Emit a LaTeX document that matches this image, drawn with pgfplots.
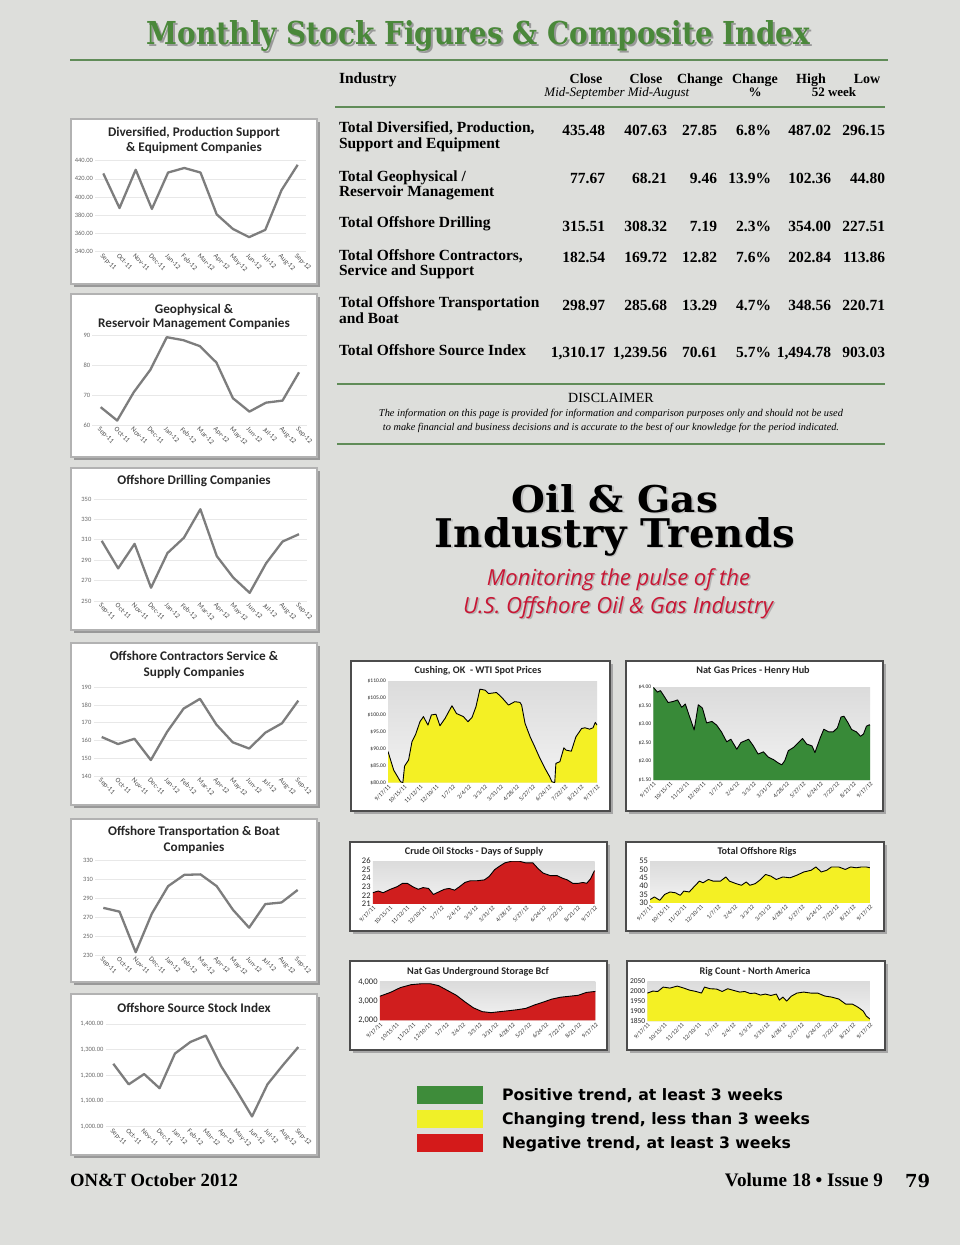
\documentclass[border=0pt]{standalone}
\usepackage{pgfplots}
\pgfplotsset{compat=1.18}
\usepackage{pgfplotstable}
\usepackage{graphicx}
\usepackage{fontspec}
\setmainfont{Liberation Serif}
\newfontfamily\carlito{Carlito}
\newfontfamily\slab{DejaVu Serif}
\newfontfamily\osans{Open Sans}
\newfontfamily\dsans{DejaVu Sans}

\definecolor{pagebg}{RGB}{221,222,219}
\definecolor{titlegreen}{RGB}{74,136,58}
\definecolor{rulegreen}{RGB}{96,140,88}
\definecolor{crimson}{RGB}{200,22,52}
\definecolor{linegray}{RGB}{125,125,125}
\definecolor{posgreen}{RGB}{62,140,58}
\definecolor{chgyellow}{RGB}{240,240,40}
\definecolor{negred}{RGB}{212,26,26}
\definecolor{areagreen}{RGB}{56,138,56}
\definecolor{areayellow}{RGB}{244,240,36}
\definecolor{areared}{RGB}{208,30,30}

% ---------- weekly series (x = days since 9/17/11) ----------
\pgfplotstableread{
x y
0 89.2
10 83.7
22 80.3
26 80
29 84.9
36 86.7
42 92.1
48 94.1
56 98
62 99.5
70 97
76 100
84 100.2
91 96.8
100 99
112 102.7
120 100.4
132 99.5
140 98
147 99.2
154 102.4
161 107.6
170 107.3
176 106.3
190 106.6
199 105.2
211 102.9
222 103.9
231 103.7
234 102.9
240 97.5
249 93.5
257 90.6
266 87.2
275 84.2
283 81.8
287 80.3
292 80
294 85.7
301 86.2
308 90.3
312 89.6
321 89.3
329 93.5
339 96
345 96.2
353 95.8
359 96.2
363 97.8
366 97
}\wti

\pgfplotstableread{
x y
0 4.00
7 3.87
12 3.91
17 3.79
25 3.59
34 3.62
41 3.66
48 3.46
54 3.55
61 3.22
69 2.85
76 3.53
83 3.44
90 3.04
99 3.08
107 2.98
115 2.80
124 2.53
131 2.60
141 2.33
148 2.51
161 2.60
169 2.42
177 2.20
186 2.26
194 2.12
203 2.05
211 1.96
217 1.91
222 2.02
228 2.29
237 2.38
245 2.51
252 2.62
259 2.47
268 2.42
273 2.24
282 2.64
288 2.87
296 2.80
304 2.80
311 2.91
317 3.20
322 3.22
329 3.04
335 2.86
343 2.80
350 2.68
355 2.74
360 2.95
365 2.99
366 2.97
}\natgas

\pgfplotstableread{
x y
0 22.3
9 22.5
17 22.3
29 22.7
40 23.0
49 23.4
57 23.4
66 23.0
75 22.7
83 22.9
92 22.8
100 22.1
109 22.4
118 22.7
126 22.8
135 22.6
143 23.0
152 23.5
161 23.7
172 23.7
184 23.8
192 24.2
201 25.0
209 25.4
218 25.8
230 26.0
241 26.0
252 25.8
264 25.8
273 25.1
281 24.6
293 24.3
304 24.3
313 24.0
321 23.8
330 23.4
339 23.4
347 23.5
353 23.4
359 23.9
366 24.9
}\crude

\pgfplotstableread{
x y
0 32
7 33.5
16 31.5
24 35
33 36.5
42 36
50 34.5
56 37
65 36.5
74 40
82 43
88 42
97 44
105 43
117 43
126 45.5
132 43
143 41.5
152 40.5
160 42.5
166 40.5
175 41.5
184 44
192 47
201 46
210 44
221 45.5
233 45
244 46.5
256 48.5
268 49.5
276 51.5
285 48.5
294 49.5
302 51.5
314 51.5
325 50
334 51.5
343 51
352 51.5
360 51.5
366 51
}\rigs

\pgfplotstableread{
x y
0 3250
18 3450
35 3700
53 3850
71 3900
86 3900
100 3800
115 3550
130 3300
145 2950
159 2650
174 2450
189 2400
204 2450
219 2500
233 2550
248 2620
263 2800
278 2950
292 3100
307 3200
322 3250
337 3300
351 3450
366 3500
}\storage

\pgfplotstableread{
x y
0 1990
9 2000
17 1998
26 2020
37 2015
49 2025
60 2015
69 2005
80 1998
89 1990
94 2020
103 2012
114 2010
123 1998
132 2012
140 2005
152 1995
160 1998
169 1988
177 1990
186 1980
194 1985
203 1978
212 1985
217 1955
223 1970
229 1950
237 1975
246 1990
257 1995
269 1990
280 1990
292 1975
303 1970
315 1960
326 1935
337 1935
346 1920
355 1900
360 1875
366 1860
}\rigna

\pgfplotsset{
  every axis/.append style={/pgf/number format/assume math mode=true},
  mini/.style={
    scale only axis, anchor=south west, clip=false,
    xmin=-0.5, xmax=12.5,
    xtick={0,...,12},
    xticklabels={Sep-11,Oct-11,Nov-11,Dec-11,Jan-12,Feb-12,Mar-12,Apr-12,May-12,Jun-12,Jul-12,Aug-12,Sep-12},
    x tick label style={rotate=-45, anchor=north west, font=\carlito\fontsize{7}{8}\selectfont, text=black!70, inner sep=1pt},
    y tick label style={font=\carlito\fontsize{6.5}{7}\selectfont, text=black!60, inner sep=2pt},
    scaled y ticks=false,
    axis line style={draw=none}, major tick length=0pt,
    ymajorgrids, grid style={black!9, line width=0.7pt},
  },
  minil/.style={line width=2.3pt, color=linegray, line join=round, mark=none},
  area/.style={
    scale only axis, anchor=south west,
    xmin=0, xmax=366,
    xtick={0,28,56,84,113,141,169,197,225,253,282,310,338,366},
    xticklabels={9/17/11,10/15/11,11/12/11,12/10/11,1/7/12,2/4/12,3/3/12,3/31/12,4/28/12,5/27/12,6/24/12,7/22/12,8/21/12,9/17/12},
    x tick label style={rotate=45, anchor=north east, font=\carlito\fontsize{6}{6.5}\selectfont, text=black!80, inner sep=1pt},
    y tick label style={font=\carlito\fontsize{8.5}{9}\selectfont, text=black!85, inner sep=2pt},
    scaled y ticks=false,
    axis line style={draw=none}, major tick length=0pt,
    axis background/.style={top color=black!14, bottom color=black!5},
  },
  areal/.style={black, line width=0.9pt, mark=none, line join=round},
}

\begin{document}
\begin{tikzpicture}
\useasboundingbox (0pt,0pt) rectangle (960pt,-1245pt);
\begin{scope}[x=1pt,y=-1pt, every node/.style={inner sep=0pt, outer sep=0pt}]
\fill[pagebg] (0,0) rectangle (960,1245);

% ---- main title
\node[anchor=base, text=black!40] at (480.5,46) {\resizebox{663pt}{24pt}{\slab\bfseries Monthly Stock Figures \& Composite Index}};
\node[anchor=base, text=titlegreen] at (478.5,44) {\resizebox{663pt}{24pt}{\slab\bfseries Monthly Stock Figures \& Composite Index}};
\draw[rulegreen, line width=2.5] (70,60) -- (888,60);

% ---- table header
\begin{scope}[font=\fontsize{15.5}{17}\selectfont\bfseries]
\node[anchor=base west] at (339,83) {Industry};
\end{scope}
\begin{scope}[font=\fontsize{14}{16}\selectfont\bfseries]
\node[anchor=base] at (586,83) {Close};
\node[anchor=base] at (646,83) {Close};
\node[anchor=base] at (700,83) {Change};
\node[anchor=base] at (755,83) {Change};
\node[anchor=base] at (811,83) {High};
\node[anchor=base] at (867,83) {Low};
\end{scope}
\node[anchor=base, font=\fontsize{13}{15}\selectfont\itshape] at (584.5,96) {Mid-September};
\node[anchor=base, font=\fontsize{13}{15}\selectfont\itshape] at (658.5,96) {Mid-August};
\node[anchor=base, font=\fontsize{13}{15}\selectfont\bfseries] at (755,96) {\%};
\node[anchor=base, font=\fontsize{13}{15}\selectfont\bfseries] at (834,96) {52 week};
\draw[rulegreen, line width=2.5] (335,107) -- (885,107);

% ---- table rows
\begin{scope}[font=\fontsize{15.5}{17}\selectfont\bfseries]
\node[anchor=base west] at (339,132) {Total Diversified, Production,};
\node[anchor=base west] at (339,148) {Support and Equipment};
\node[anchor=base west] at (339,181) {Total Geophysical /};
\node[anchor=base west] at (339,196) {Reservoir Management};
\node[anchor=base west] at (339,227) {Total Offshore Drilling};
\node[anchor=base west] at (339,260) {Total Offshore Contractors,};
\node[anchor=base west] at (339,275) {Service and Support};
\node[anchor=base west] at (339,307) {Total Offshore Transportation};
\node[anchor=base west] at (339,323) {and Boat};
\node[anchor=base west] at (339,355) {Total Offshore Source Index};
\foreach \yy/\a/\b/\c/\d/\e/\f in {
  135/435.48/407.63/27.85/6.8\%/487.02/296.15,
  183/77.67/68.21/9.46/13.9\%/102.36/44.80,
  231/315.51/308.32/7.19/2.3\%/354.00/227.51,
  262/182.54/169.72/12.82/7.6\%/202.84/113.86,
  310/298.97/285.68/13.29/4.7\%/348.56/220.71,
  357/{1,310.17}/{1,239.56}/70.61/5.7\%/{1,494.78}/903.03}{
  \node[anchor=base east] at (605,\yy) {\a};
  \node[anchor=base east] at (667,\yy) {\b};
  \node[anchor=base east] at (717,\yy) {\c};
  \node[anchor=base east] at (771,\yy) {\d};
  \node[anchor=base east] at (831,\yy) {\e};
  \node[anchor=base east] at (885,\yy) {\f};
}
\end{scope}
\draw[rulegreen, line width=2] (337,384) -- (885,384);
\node[anchor=base, font=\fontsize{14}{16}\selectfont] at (611,402) {DISCLAIMER};
\node[anchor=base] at (611,416) {\resizebox{464pt}{!}{\itshape The information on this page is provided for information and comparison purposes only and should not be used}};
\node[anchor=base] at (611,430) {\resizebox{456pt}{!}{\itshape to make financial and business decisions and is accurate to the best of our knowledge for the period indicated.}};
\draw[rulegreen, line width=2] (337,444) -- (885,444);

% ---- Oil & Gas Industry Trends
\node[anchor=base, text=black!25] at (616.5,513.5) {\resizebox{206pt}{28pt}{\slab\bfseries Oil \& Gas}};
\node[anchor=base] at (615,512) {\resizebox{206pt}{28pt}{\slab\bfseries Oil \& Gas}};
\node[anchor=base, text=black!25] at (616.5,548.5) {\resizebox{360pt}{30pt}{\slab\bfseries Industry Trends}};
\node[anchor=base] at (615,547) {\resizebox{360pt}{30pt}{\slab\bfseries Industry Trends}};
\node[anchor=base, text=black!30] at (620,586.5) {\resizebox{263pt}{!}{\osans\itshape Monitoring the pulse of the}};
\node[anchor=base, text=crimson] at (618.5,585) {\resizebox{263pt}{!}{\osans\itshape Monitoring the pulse of the}};
\node[anchor=base, text=black!30] at (619.5,614.5) {\resizebox{310pt}{!}{\osans\itshape U.S. Offshore Oil \& Gas Industry}};
\node[anchor=base, text=crimson] at (618,613) {\resizebox{310pt}{!}{\osans\itshape U.S. Offshore Oil \& Gas Industry}};

% ---- left chart boxes
\foreach \t/\b in {119/284, 294/457, 468/630, 643/805, 819/982, 994/1155}{
  \fill[black!40] (73.5,\t+2.5) rectangle (319.5,\b+2.5);
  \draw[fill=white, draw=black!30, line width=2] (71,\t) rectangle (317,\b);
}
% ---- right chart boxes
\foreach \l/\t/\r/\b in {351/661/610/811, 626/661/883/811, 350/842/607/931, 626/842/884/931, 350/961/607/1050, 627/961/885/1050}{
  \fill[black!35] (\l+2.5,\t+2.5) rectangle (\r+2.5,\b+2.5);
  \draw[fill=white, draw=black!70, line width=1.3] (\l,\t) rectangle (\r,\b);
}

% ---- legend
\fill[posgreen] (417,1086) rectangle (483,1104);
\fill[chgyellow] (417,1110) rectangle (483,1128);
\fill[negred] (417,1134) rectangle (483,1152);
\node[anchor=base west] at (502,1100.5) {\resizebox{281pt}{!}{\dsans\bfseries Positive trend, at least 3 weeks}};
\node[anchor=base west] at (502,1124.5) {\resizebox{308pt}{!}{\dsans\bfseries Changing trend, less than 3 weeks}};
\node[anchor=base west] at (502,1148.5) {\resizebox{289pt}{!}{\dsans\bfseries Negative trend, at least 3 weeks}};

% ---- footer
\node[anchor=base west] at (70,1186) {\resizebox{168pt}{!}{\bfseries ON\&T October 2012}};
\node[anchor=base east] at (883,1186) {\resizebox{158pt}{!}{\bfseries Volume 18 \textbullet{} Issue 9}};
\node[anchor=base west] at (905,1187) {\resizebox{25pt}{!}{\slab\bfseries 79}};
\end{scope}

% =============== left mini charts ===============
\begin{axis}[mini, at={(95.2pt,-251.7pt)}, width=210.6pt, height=91pt,
  ymin=340, ymax=440, ytick={340,360,...,440},
  y tick label style={/pgf/number format/fixed, /pgf/number format/fixed zerofill, /pgf/number format/precision=2}]
\addplot[minil] coordinates {(0,426)(1,388)(2,430)(3,387)(4,427)(5,432)(6,427)(7,381)(8,365)(9,356)(10,364)(11,407.6)(12,435.5)};
\end{axis}

\begin{axis}[mini, at={(92.4pt,-425pt)}, width=214.9pt, height=89.3pt,
  ymin=60, ymax=90, ytick={60,70,80,90}]
\addplot[minil] coordinates {(0,66)(1,61.5)(2,71)(3,78.5)(4,89.5)(5,88.5)(6,86.5)(7,81)(8,69)(9,64.5)(10,67.5)(11,68.2)(12,77.7)};
\end{axis}

\begin{axis}[mini, at={(93.5pt,-601pt)}, width=213.7pt, height=102pt,
  ymin=250, ymax=350, ytick={250,270,...,350}]
\addplot[minil] coordinates {(0,309)(1,282)(2,306)(3,263)(4,297)(5,312)(6,340)(7,294)(8,273)(9,258)(10,287)(11,308.3)(12,315.5)};
\end{axis}

\begin{axis}[mini, at={(93.5pt,-776pt)}, width=213pt, height=88.7pt,
  ymin=140, ymax=190, ytick={140,150,...,190}]
\addplot[minil] coordinates {(0,162)(1,158)(2,161)(3,149)(4,165)(5,178)(6,183.5)(7,169)(8,159)(9,155.5)(10,164.5)(11,169.7)(12,182.5)};
\end{axis}

\begin{axis}[mini, at={(95.2pt,-955pt)}, width=210.6pt, height=94.3pt,
  ymin=230, ymax=330, ytick={230,250,...,330}]
\addplot[minil] coordinates {(0,280)(1,276)(2,233)(3,274)(4,303)(5,315)(6,315.5)(7,303)(8,278)(9,259)(10,284)(11,285.7)(12,299)};
\end{axis}

\begin{axis}[mini, at={(105.6pt,-1126.7pt)}, width=200.4pt, height=102.7pt,
  ymin=1000, ymax=1400, ytick={1000,1100,...,1400},
  y tick label style={/pgf/number format/fixed, /pgf/number format/fixed zerofill, /pgf/number format/precision=2, /pgf/number format/1000 sep={,}}]
\addplot[minil] coordinates {(0,1245)(1,1165)(2,1205)(3,1150)(4,1285)(5,1330)(6,1355)(7,1235)(8,1140)(9,1040)(10,1165)(11,1239.6)(12,1310.2)};
\end{axis}

% =============== right area charts ===============
\begin{axis}[area, at={(388pt,-782.7pt)}, width=209pt, height=101.7pt,
  ymin=80, ymax=110, ytick={80,85,...,110},
  y tick label style={font=\carlito\fontsize{5.5}{6}\selectfont},
  yticklabel={\$\pgfmathprintnumber[fixed,fixed zerofill,precision=2]{\tick}}]
\addplot[fill=areayellow, draw=none] table {\wti} \closedcycle;
\addplot[areal] table {\wti};
\end{axis}

\begin{axis}[area, at={(653.3pt,-780pt)}, width=216.7pt, height=92.7pt,
  ymin=1.5, ymax=4, ytick={1.5,2,...,4},
  y tick label style={font=\carlito\fontsize{5.5}{6}\selectfont},
  yticklabel={\$\pgfmathprintnumber[fixed,fixed zerofill,precision=2]{\tick}}]
\addplot[fill=areagreen, draw=none] table {\natgas} \closedcycle;
\addplot[areal] table {\natgas};
\end{axis}

\begin{axis}[area, at={(372.8pt,-903.8pt)}, width=221.8pt, height=42.7pt,
  ymin=21, ymax=26, ytick={21,...,26}]
\addplot[fill=areared, draw=none] table {\crude} \closedcycle;
\addplot[areal] table {\crude};
\end{axis}

\begin{axis}[area, at={(650.2pt,-902.8pt)}, width=219.7pt, height=41.7pt,
  ymin=30, ymax=55, ytick={30,35,...,55}]
\addplot[fill=areayellow, draw=none] table {\rigs} \closedcycle;
\addplot[areal] table {\rigs};
\end{axis}

\begin{axis}[area, at={(379.8pt,-1020.3pt)}, width=215.5pt, height=38.5pt,
  ymin=2000, ymax=4000, ytick={2000,3000,4000},
  y tick label style={/pgf/number format/1000 sep={,}}]
\addplot[fill=areared, draw=none] table {\storage} \closedcycle;
\addplot[areal] table {\storage};
\end{axis}

\begin{axis}[area, at={(647.4pt,-1021pt)}, width=222.5pt, height=39.9pt,
  ymin=1850, ymax=2050, ytick={1850,1900,...,2050},
  y tick label style={font=\carlito\fontsize{7.5}{8}\selectfont, /pgf/number format/1000 sep={}}]
\addplot[fill=areayellow, draw=none] table {\rigna} \closedcycle;
\addplot[areal] table {\rigna};
\end{axis}

% ---- chart titles
\begin{scope}[x=1pt,y=-1pt, every node/.style={inner sep=0pt, outer sep=0pt}]
\begin{scope}[font=\carlito\bfseries\fontsize{13.2}{15}\selectfont, text=black!85]
\node[anchor=base] at (194,136.5) {Diversified, Production Support};
\node[anchor=base] at (194,151.7) {\& Equipment Companies};
\node[anchor=base] at (194,313) {Geophysical \&};
\node[anchor=base] at (194,327.5) {Reservoir Management Companies};
\node[anchor=base] at (194,484) {Offshore Drilling Companies};
\node[anchor=base] at (194,660.7) {Offshore Contractors Service \&};
\node[anchor=base] at (194,676.3) {Supply Companies};
\node[anchor=base] at (194,835.7) {Offshore Transportation \& Boat};
\node[anchor=base] at (194,851.3) {Companies};
\node[anchor=base] at (194,1012.3) {Offshore Source Stock Index};
\end{scope}
\begin{scope}[font=\carlito\bfseries\fontsize{10.2}{12}\selectfont, text=black!85]
\node[anchor=base] at (478,673.5) {Cushing, OK \ - WTI Spot Prices};
\node[anchor=base] at (753,673.5) {Nat Gas Prices - Henry Hub};
\node[anchor=base] at (474,854) {Crude Oil Stocks - Days of Supply};
\node[anchor=base] at (757,854) {Total Offshore Rigs};
\node[anchor=base] at (478,974) {Nat Gas Underground Storage Bcf};
\node[anchor=base] at (755,974) {Rig Count - North America};
\end{scope}
\end{scope}
\end{tikzpicture}
\end{document}
